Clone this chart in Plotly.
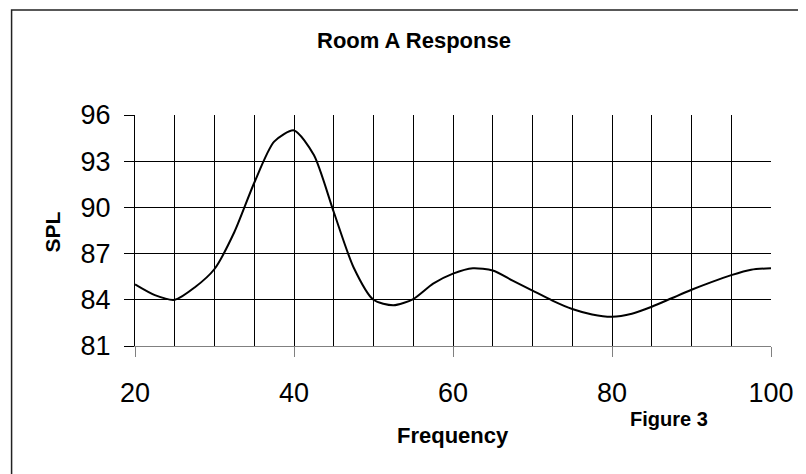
import plotly.graph_objects as go

# Data
freq = [20, 22.5, 25, 27.5, 30, 32.5, 35, 37.5, 40, 42.5, 45, 47.5, 50, 52.5, 55,
        57.5, 60, 62.5, 65, 67.5, 70, 72.5, 75, 77.5, 80, 82.5, 85, 87.5, 90,
        92.5, 95, 97.5, 100]
spl = [85.0, 84.3, 84.0, 84.8, 86.0, 88.4, 91.6, 94.27, 95.0, 93.4, 89.7, 86.1,
       84.0, 83.65, 84.05, 85.05, 85.7, 86.05, 85.9, 85.25, 84.6, 83.95, 83.4,
       83.05, 82.9, 83.1, 83.55, 84.1, 84.65, 85.15, 85.6, 85.95, 86.05]

x_ticks = [20, 40, 60, 80, 100]
x_grid = [25, 30, 35, 40, 45, 50, 55, 60, 65, 70, 75, 80, 85, 90, 95]
y_ticks = [81, 84, 87, 90, 93, 96]
y_grid = [84, 87, 90, 93]

title_text = "Room A Response"
x_title = "Frequency"
y_title = "SPL"
note_text = "Figure 3"

FONT = "Liberation Sans, Arial, sans-serif"

fig = go.Figure()
fig.add_trace(go.Scatter(
    x=freq, y=spl, mode="lines",
    line=dict(color="black", width=2, shape="spline", smoothing=0.7),
    showlegend=False, hoverinfo="skip",
))

# the page body has an 8px margin, so the figure is 798x466 and offsets are shifted
fig.update_layout(
    width=798, height=466,
    margin=dict(l=127, r=32, t=107, b=128),
    paper_bgcolor="white", plot_bgcolor="white",
    font=dict(family=FONT, color="black"),
    xaxis=dict(
        range=[20, 100], tickmode="array", tickvals=x_ticks,
        ticks="outside", ticklen=10, tickcolor="#808080", tickwidth=1,
        showline=True, linecolor="#808080", linewidth=1,
        showgrid=False, zeroline=False,
        tickfont=dict(family=FONT, size=27, color="black"),
        ticklabelstandoff=13,
    ),
    xaxis2=dict(
        range=[20, 100], overlaying="x", tickmode="array", tickvals=x_grid,
        showgrid=True, gridcolor="black", gridwidth=1,
        showticklabels=False, ticks="", showline=False, zeroline=False,
    ),
    yaxis=dict(
        range=[81, 96], tickmode="array", tickvals=y_ticks,
        ticks="outside", ticklen=10, tickcolor="black", tickwidth=1,
        showline=True, linecolor="black", linewidth=1,
        showgrid=False, zeroline=False,
        tickfont=dict(family=FONT, size=27, color="black"),
        ticklabelstandoff=8,
    ),
    yaxis2=dict(
        range=[81, 96], overlaying="y", tickmode="array", tickvals=y_grid,
        showgrid=True, gridcolor="black", gridwidth=1,
        showticklabels=False, ticks="", showline=False, zeroline=False,
    ),
)

# dummy invisible trace to activate the grid axes
fig.add_trace(go.Scatter(x=[None], y=[None], xaxis="x2", yaxis="y2",
                         showlegend=False, hoverinfo="skip"))

def px_x(px):
    return (px - 135) / 639

def px_y(py):
    return (346 - py) / 231

# outer border
fig.add_shape(type="rect", xref="paper", yref="paper",
              x0=px_x(11), x1=px_x(815), y0=px_y(485), y1=px_y(10),
              line=dict(color="#222222", width=1.5), fillcolor="rgba(0,0,0,0)",
              layer="below")

fig.add_annotation(text=f"<b>{title_text}</b>", x=px_x(415), y=px_y(40),
                   xref="paper", yref="paper", showarrow=False,
                   xanchor="center", yanchor="middle",
                   font=dict(family=FONT, size=22, color="black"))
fig.add_annotation(text=f"<b>{x_title}</b>", x=px_x(455), y=px_y(435),
                   xref="paper", yref="paper", showarrow=False,
                   xanchor="center", yanchor="middle",
                   font=dict(family=FONT, size=22, color="black"))
fig.add_annotation(text=f"<b>{note_text}</b>", x=px_x(672), y=px_y(419),
                   xref="paper", yref="paper", showarrow=False,
                   xanchor="center", yanchor="middle",
                   font=dict(family=FONT, size=20, color="black"))
fig.add_annotation(text=f"<b>{y_title}</b>", x=px_x(52), y=px_y(232),
                   xref="paper", yref="paper", showarrow=False,
                   xanchor="center", yanchor="middle", textangle=-90,
                   font=dict(family=FONT, size=21, color="black"))

fig.write_html("out.html")
